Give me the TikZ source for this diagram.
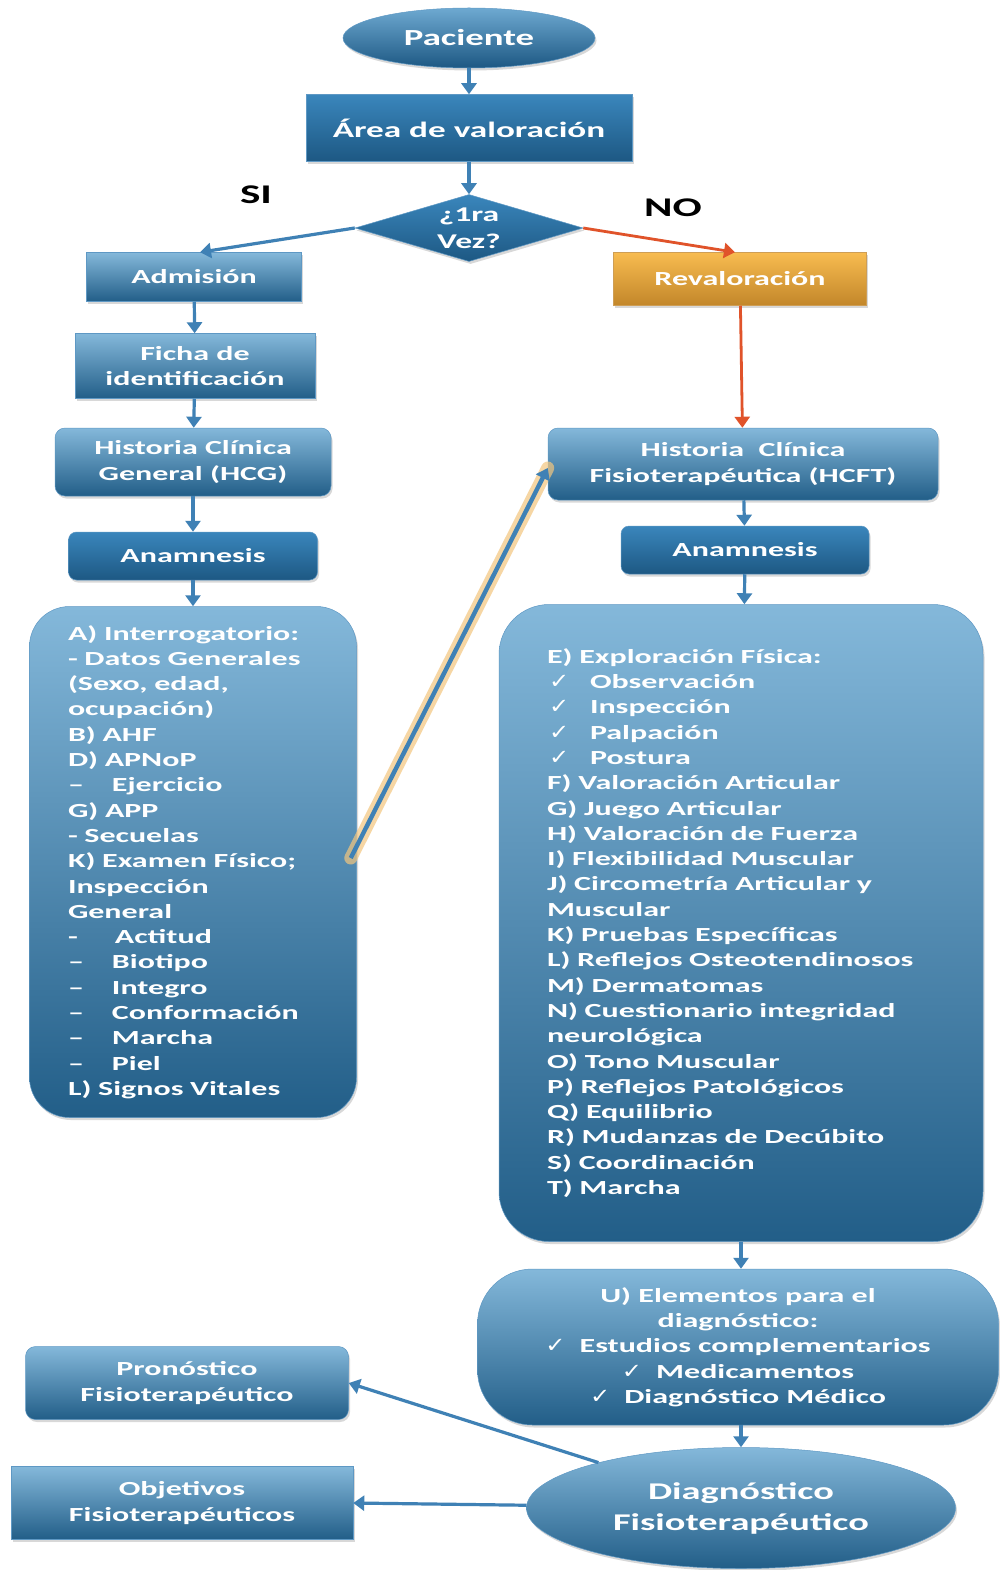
\documentclass[tikz,border=0pt]{standalone}
\usepackage{fontspec}
\setmainfont{Carlito}[FakeStretch=1.6]
\newfontfamily\symfont{DejaVu Sans}[FakeStretch=1.15]
\usetikzlibrary{shapes.geometric,arrows.meta,shadows,calc}
\definecolor{btop}{HTML}{84B8DA}
\definecolor{bbot}{HTML}{225E88}
\definecolor{bedge}{HTML}{5E98C4}
\definecolor{dtop}{HTML}{3A86BC}
\definecolor{dbot}{HTML}{1D5883}
\definecolor{otop}{HTML}{F8BC50}
\definecolor{obot}{HTML}{C2862A}
\definecolor{arrowblue}{HTML}{3F81B5}
\definecolor{arrowred}{HTML}{E0532A}
\definecolor{glow}{HTML}{F3C67E}
\newcommand\chk{\makebox[43pt][l]{\hspace{2pt}{\symfont\fontsize{21}{21}\selectfont ✓}}}
\newcommand\ck{{\symfont\fontsize{21}{21}\selectfont ✓}}
\newcommand\dsh[1]{\makebox[#1][l]{–}}
\tikzset{
  box/.style={draw=bedge, line width=0.5pt, top color=btop, bottom color=bbot,
    text=white, font=\fontsize{20}{25.3}\selectfont\bfseries, align=center,
    inner sep=0pt, drop shadow={shadow xshift=1.5pt, shadow yshift=-2.5pt, opacity=0.3}},
  darkbox/.style={box, top color=dtop, bottom color=dbot},
  rbox/.style={box, rounded corners=10pt},
  obox/.style={box, draw=obot!80!white, top color=otop, bottom color=obot},
  conn/.style={draw=arrowblue, line width=3.2pt, -{Triangle[width=15pt,length=11pt]}},
  rconn/.style={conn, draw=arrowred, line width=2.8pt},
  lbl/.style={font=\fontsize{27}{30}\selectfont\bfseries, text=black}
}
\begin{document}
\begin{tikzpicture}[x=1pt,y=-1pt]
\useasboundingbox (0,0) rectangle (999,1570);
\fill[white] (0,0) rectangle (999,1570);

% nodes
\node[box, ellipse, top color=btop!70!dtop, bottom color=dbot, minimum width=252pt, minimum height=60pt,
  font=\fontsize{23}{28}\selectfont\bfseries] (pac) at (469,38) {Paciente};
\node[darkbox, minimum width=326pt, minimum height=67pt,
  font=\fontsize{22}{27}\selectfont\bfseries] (area) at (469,128) {Área de valoración};
\node[darkbox, diamond, aspect=3.4, minimum width=228pt, minimum height=67pt,
  font=\fontsize{21}{27}\selectfont\bfseries] (dia) at (469,228) {¿1ra\\Vez?};
\node[lbl] (si) at (256,195) {SI};
\node[lbl] (no) at (673,208) {NO};

\node[box, minimum width=215pt, minimum height=49pt] (adm) at (194,277) {Admisión};
\node[obox, minimum width=253pt, minimum height=53pt] (rev) at (740,279) {Revaloración};
\node[box, minimum width=240pt, minimum height=65pt] (ficha) at (195,366) {Ficha de\\identificación};
\node[rbox, minimum width=276pt, minimum height=68pt] (hcg) at (193,462) {Historia Clínica\\General (HCG)};
\node[darkbox, rounded corners=8pt, minimum width=249pt, minimum height=48pt] (anl) at (193,556) {Anamnesis};
\node[rbox, minimum width=390pt, minimum height=72pt] (hcft) at (743,464) {Historia\ \ Clínica\\Fisioterapéutica (HCFT)};
\node[darkbox, rounded corners=8pt, minimum width=248pt, minimum height=48pt] (anr) at (745,550) {Anamnesis};

\node[box, rounded corners=40pt, minimum width=327pt, minimum height=511pt,
  text width=250pt, align=left] (lbox) at (193,862) {%
A) Interrogatorio:\\
- Datos Generales\\
(Sexo, edad,\\
ocupación)\\
B) AHF\\
D) APNoP\\
\dsh{44pt}Ejercicio\\
G) APP\\
- Secuelas\\
K) Examen Físico;\\
Inspección\\
General\\
\makebox[47pt][l]{-}Actitud\\
\dsh{44pt}Biotipo\\
\dsh{44pt}Integro\\
\dsh{44pt}Conformación\\
\dsh{44pt}Marcha\\
\dsh{44pt}Piel\\
L) Signos Vitales\\[-6pt]};

\node[box, rounded corners=50pt, minimum width=484pt, minimum height=637pt,
  text width=388pt, align=left] (rbig) at (741,923) {%
E) Exploración Física:\\
\chk Observación\\
\chk Inspección\\
\chk Palpación\\
\chk Postura\\
F) Valoración Articular\\
G) Juego Articular\\
H) Valoración de Fuerza\\
I) Flexibilidad Muscular\\
J) Circometría Articular y\\
Muscular\\
K) Pruebas Específicas\\
L) Reflejos Osteotendinosos\\
M) Dermatomas\\
N) Cuestionario integridad\\
neurológica\\
O) Tono Muscular\\
P) Reflejos Patológicos\\
Q) Equilibrio\\
R) Mudanzas de Decúbito\\
S) Coordinación\\
T) Marcha\\[-6pt]};

\node[box, rounded corners=55pt, minimum width=521pt, minimum height=156pt] (ubox) at (738,1347) {%
U) Elementos para el\\
diagnóstico:\\
\ck\hspace{14pt}Estudios complementarios\\
\ck\hspace{14pt}Medicamentos\\
\ck\hspace{14pt}Diagnóstico Médico};

\node[rbox, minimum width=323pt, minimum height=73pt] (pron) at (187,1383) {Pronóstico\\Fisioterapéutico};
\node[box, minimum width=342pt, minimum height=73pt] (obj) at (182,1503) {Objetivos\\Fisioterapéuticos};
\node[box, ellipse, minimum width=429pt, minimum height=121pt,
  font=\fontsize{24}{31}\selectfont\bfseries] (diag) at (741,1508) {Diagnóstico\\Fisioterapéutico};

% connectors
\draw[conn] (pac) -- (area);
\draw[conn] (area) -- (dia);
\draw[conn] (dia.west) -- ([xshift=6pt]adm.north);
\draw[rconn] (dia.east) -- ([xshift=-5pt]rev.north);
\draw[conn] (adm) -- (ficha);
\draw[conn] (ficha) -- (hcg);
\draw[conn] (hcg) -- (anl);
\draw[conn] (anl) -- (lbox);
\draw[rconn] (rev) -- (hcft);
\draw[conn] (hcft) -- (anr);
\draw[conn] (anr) -- (rbig);
\draw[conn] (rbig.south) -- (rbig.south |- ubox.north);
\draw[conn] (diag.north |- ubox.south) -- (diag.north);
\draw[conn] (diag) -- (pron.east);
\draw[conn] (diag) -- (obj.east);
\draw[glow, line width=13pt, opacity=0.7, line cap=round] ($(lbox.east)+(-6pt,4pt)$) -- ($(hcft.west)+(0,-4pt)$);
\draw[conn, line width=4.4pt] ($(lbox.east)+(-6pt,4pt)$) -- ($(hcft.west)+(0,-4pt)$);
\end{tikzpicture}
\end{document}
